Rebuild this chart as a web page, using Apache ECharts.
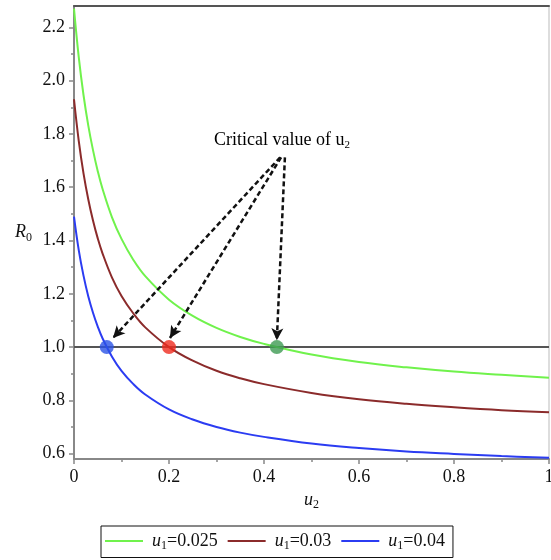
<!DOCTYPE html>
<html>
<head>
<meta charset="utf-8">
<script src="https://cdn.jsdelivr.net/npm/echarts@6/dist/echarts.min.js"></script>
<style>
  html, body { margin: 0; padding: 0; background: #fff; }
  #chart { width: 551px; height: 560px; }
</style>
</head>
<body>
<div id="chart"></div>
<script>
(function () {

  // values
  var uVals = [0, 0.01, 0.02, 0.03, 0.04, 0.05, 0.06, 0.08, 0.1, 0.125, 0.15, 0.2, 0.25, 0.3, 0.35, 0.4, 0.5, 0.6, 0.7, 0.8, 0.9, 1.0];
  var r025 = [2.270, 2.088, 1.946, 1.832, 1.739, 1.660, 1.594, 1.487, 1.406, 1.327, 1.266, 1.178, 1.117, 1.072, 1.038, 1.012, 0.972, 0.944, 0.924, 0.908, 0.896, 0.885];
  var r03 = [1.930, 1.774, 1.652, 1.555, 1.475, 1.408, 1.352, 1.261, 1.192, 1.126, 1.074, 1.000, 0.949, 0.911, 0.883, 0.861, 0.828, 0.804, 0.787, 0.774, 0.763, 0.755];
  var r04 = [1.490, 1.364, 1.268, 1.191, 1.129, 1.077, 1.033, 0.964, 0.911, 0.861, 0.822, 0.766, 0.728, 0.700, 0.679, 0.663, 0.638, 0.621, 0.608, 0.599, 0.591, 0.585];
  var seriesNames = ['u1=0.025', 'u1=0.03', 'u1=0.04'];
  var critU = [0.069, 0.2, 0.427];

  var yTicks = [0.6, 0.8, 1.0, 1.2, 1.4, 1.6, 1.8, 2.0, 2.2];
  var yMinor = [0.7, 0.9, 1.1, 1.3, 1.5, 1.7, 1.9, 2.1];

  // annotation arrows (data coords): apex -> tip
  var arrowFrom = [[0.434, 1.712], [0.436, 1.712], [0.444, 1.712]];
  var arrowTo = [[0.082, 1.034], [0.202, 1.034], [0.427, 1.026]];
  var labelPos = [0.438, 1.776];

  var lineColors = ['#70f24c', '#8b2b2b', '#2b3cf2'];
  var dotColors = ['#2b52e6', '#ef2b1e', '#3d9a52'];
  var font = 'Liberation Serif, Times New Roman, serif';
  var ink = '#111';

  function zip(xs, ys) {
    return xs.map(function (x, i) { return [x, ys[i]]; });
  }

  var chart = echarts.init(document.getElementById('chart'));

  var curves = [r025, r03, r04].map(function (vals, i) {
    return {
      name: seriesNames[i],
      type: 'line',
      data: zip(uVals, vals),
      smooth: 0.4,
      symbol: 'none',
      lineStyle: { color: lineColors[i], width: 2 },
      itemStyle: { color: lineColors[i] },
      z: 3
    };
  });

  var option = {
    animation: false,
    grid: { left: 74, right: 2, top: 6, bottom: 101, outerBoundsMode: 'none',
      show: true, borderColor: '#bbb', borderWidth: 1 },
    legend: {
      data: seriesNames,
      left: 101, top: 526,
      padding: [6, 8, 6, 4],
      icon: 'rect',
      itemWidth: 38, itemHeight: 2, itemGap: 10,
      borderColor: '#111', borderWidth: 1,
      formatter: function (name) {
        return '{i|u}{s|1}{t|' + name.replace('u1', '') + '}';
      },
      textStyle: {
        rich: {
          i: { fontFamily: font, fontStyle: 'italic', fontSize: 18, color: ink, padding: [0, 0, 0, 4] },
          s: { fontFamily: font, fontSize: 12, color: ink, padding: [9, 0, 0, 0] },
          t: { fontFamily: font, fontSize: 18, color: ink }
        }
      }
    },
    xAxis: [{
      type: 'value', min: 0, max: 1, interval: 0.2,
      name: '{i|u}{s|2}', nameLocation: 'middle', nameGap: 27,
      nameTextStyle: {
        rich: {
          i: { fontFamily: font, fontStyle: 'italic', fontSize: 18, color: ink },
          s: { fontFamily: font, fontSize: 12, color: ink, padding: [10, 0, 0, 0] }
        }
      },
      axisLine: { lineStyle: { color: '#888', width: 2 } },
      axisTick: { length: 5, lineStyle: { color: '#888', width: 1.5 } },
      minorTick: { show: true, splitNumber: 2, length: 3, lineStyle: { color: '#888', width: 1.5 } },
      axisLabel: { fontFamily: font, fontSize: 18, color: ink, margin: 9 },
      splitLine: { show: false }
    }, {
      type: 'value', position: 'top', min: 0, max: 1,
      axisLine: { show: true, lineStyle: { color: '#555', width: 2 } },
      axisTick: { show: false }, axisLabel: { show: false }, splitLine: { show: false }
    }],
    yAxis: [{
      type: 'value', min: 0.58, max: 2.28,
      name: '{i|R}{s|0}', nameLocation: 'middle', nameRotate: 0, nameGap: 42,
      nameTextStyle: {
        rich: {
          i: { fontFamily: font, fontStyle: 'italic', fontSize: 18, color: ink },
          s: { fontFamily: font, fontSize: 12, color: ink, padding: [10, 0, 0, 0] }
        }
      },
      axisLine: { lineStyle: { color: '#888', width: 2 } },
      axisTick: { length: 5, customValues: yTicks, lineStyle: { color: '#888', width: 1.5 } },
      axisLabel: {
        customValues: yTicks, fontFamily: font, fontSize: 18, color: ink, margin: 9,
        formatter: function (v) { return v.toFixed(1); }
      },
      splitLine: { show: false }
    }, {
      type: 'value', position: 'left', min: 0.58, max: 2.28,
      axisLine: { show: false },
      axisTick: { show: true, length: 3, customValues: yMinor, lineStyle: { color: '#888', width: 1.5 } },
      axisLabel: { show: false },
      splitLine: { show: false }
    }],
    series: curves.concat([
      {
        name: 'R0=1',
        type: 'line',
        data: [[0, 1], [1, 1]],
        symbol: 'none',
        lineStyle: { color: '#555', width: 2 },
        z: 2
      },
      {
        name: 'critical',
        type: 'scatter',
        data: critU.map(function (u, i) {
          return { value: [u, 1], itemStyle: { color: dotColors[i] } };
        }),
        symbolSize: 14,
        z: 5,
        markPoint: {
          silent: true,
          symbol: 'circle',
          symbolSize: 1,
          itemStyle: { color: 'rgba(0,0,0,0)' },
          label: {
            show: true, position: 'inside',
            formatter: '{a|Critical value of u}{b|2}',
            rich: {
              a: { fontFamily: font, fontSize: 18, color: '#000' },
              b: { fontFamily: font, fontSize: 11, color: '#000', padding: [9, 0, 0, 0] }
            }
          },
          data: [{ coord: labelPos }]
        },
        markLine: {
          silent: true,
          symbol: ['none', 'arrow'],
          symbolSize: [9, 12],
          label: { show: false },
          lineStyle: { color: '#111', width: 2.5, type: [5, 3] },
          data: arrowFrom.map(function (p, i) {
            return [{ coord: p }, { coord: arrowTo[i] }];
          })
        }
      }
    ])
  };

  chart.setOption(option);
}());
</script>
</body>
</html>
